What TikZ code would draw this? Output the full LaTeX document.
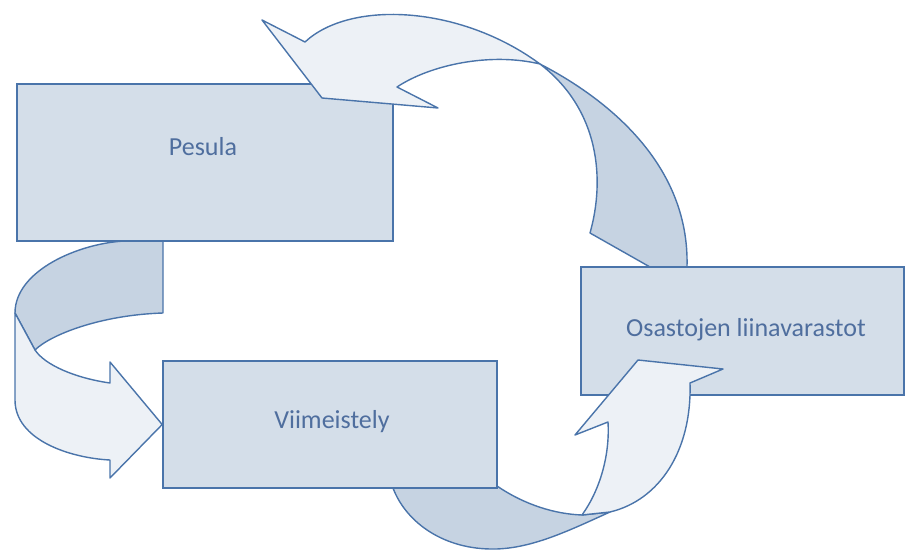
\documentclass[tikz,border=0pt]{standalone}
\usepackage{fontspec}
\setmainfont{Carlito}
\definecolor{boxfill}{HTML}{D4DEE9}
\definecolor{edge}{HTML}{4A74AA}
\definecolor{darkband}{HTML}{C6D3E2}
\definecolor{lightband}{HTML}{EDF1F6}
\definecolor{txt}{HTML}{4F6E9E}
\begin{document}
\begin{tikzpicture}[x=1pt,y=-1pt,
  boxnode/.style={draw=edge, fill=boxfill, line width=1.6pt, inner sep=0pt},
  lbl/.style={text=txt, font=\fontsize{26}{30}\selectfont, inner sep=0pt},
  darkpart/.style={draw=edge, fill=darkband, line width=1.4pt, line join=round},
  lightpart/.style={draw=edge, fill=lightband, line width=1.4pt, line join=round}]
\useasboundingbox (0,0) rectangle (905,551);

% back (dark) parts of the curved arrows
\draw[darkpart] (163,241) -- (163,313) .. controls (100,315) and (50,335) .. (35,350)
  -- (15,313) .. controls (15,270) and (80,243) .. (125,241) -- cycle;
\draw[darkpart] (393,488) -- (497,486) .. controls (525,505) and (555,514) .. (582,515)
  -- (610,512) .. controls (570,530) and (530,550) .. (490,549)
  .. controls (440,548) and (405,520) .. (393,488) -- cycle;
\draw[darkpart] (540,64) .. controls (600,95) and (690,160) .. (687,267) -- (650,267)
  -- (590,233) .. controls (605,180) and (600,110) .. (540,64) -- cycle;

% boxes
\node[boxnode, minimum width=376pt, minimum height=157pt] (pesula) at (205,162.5) {};
\node[boxnode, minimum width=334pt, minimum height=127pt] (viim) at (330,424.5) {};
\node[boxnode, minimum width=323pt, minimum height=128pt, anchor=west] (osa) at (580,331) {};

\node[lbl] (t1) at (203,147) {Pesula};
\node[lbl] (t2) at (332,422) {Viimeistely};
\node[lbl] (t3) at (746,330) {Osastojen liinavarastot};

% front (light) parts with arrow heads
\draw[lightpart] (15,313) -- (15,400) .. controls (15,440) and (70,458) .. (110,460)
  -- (110,478) -- (viim.west) -- (110,362) -- (110,383)
  .. controls (75,378) and (45,365) .. (35,350) -- cycle;
\draw[lightpart] (582,515) .. controls (600,490) and (610,455) .. (608,422)
  -- (575,435) -- (638,360) -- (723,369) -- (690,383)
  .. controls (692,450) and (660,500) .. (610,512) -- cycle;
\draw[lightpart] (540,64) .. controls (460,5) and (350,0) .. (305,42)
  -- (262,20) -- (322,98) -- (438,108) -- (397,87)
  .. controls (430,65) and (490,52) .. (540,64) -- cycle;
\end{tikzpicture}
\end{document}
